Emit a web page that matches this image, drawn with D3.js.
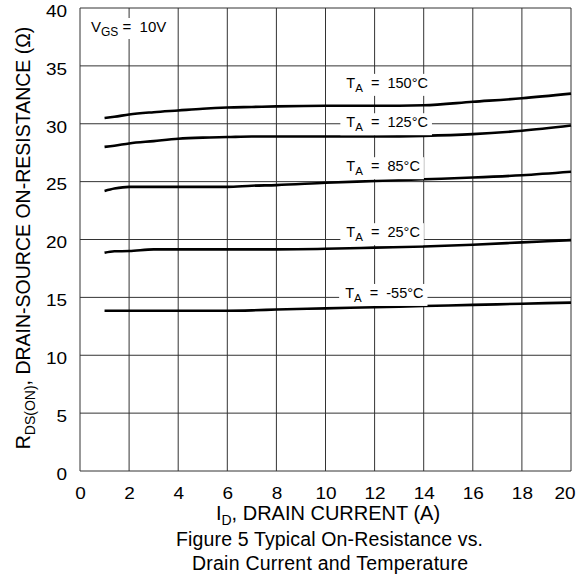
<!DOCTYPE html>
<html>
<head>
<meta charset="utf-8">
<script src="https://cdn.jsdelivr.net/npm/d3@7"></script>
<style>
  body { margin: 0; background: #fff; }
  text { font-family: "Liberation Sans", Arial, sans-serif; fill: #000; }
</style>
</head>
<body>
<div id="chart"></div>
<script>
var w = 576;
var h = 574;

// drain current (A) sample points
var current = [1, 1.4, 2, 3, 4, 5, 6, 7, 8, 10, 12, 14, 16, 18, 20];

// on-resistance (ohm), one array per temperature
var r150 = [30.5, 30.6, 30.8, 31.0, 31.15, 31.3, 31.4, 31.45, 31.5, 31.55, 31.55, 31.6, 31.9, 32.2, 32.6];
var r125 = [28.0, 28.1, 28.3, 28.5, 28.7, 28.8, 28.85, 28.9, 28.9, 28.9, 28.9, 28.95, 29.1, 29.4, 29.85];
var r85  = [24.2, 24.4, 24.55, 24.55, 24.55, 24.55, 24.55, 24.65, 24.7, 24.9, 25.05, 25.2, 25.35, 25.55, 25.85];
var r25  = [18.85, 18.98, 19.0, 19.15, 19.15, 19.15, 19.15, 19.15, 19.15, 19.2, 19.3, 19.4, 19.55, 19.75, 19.95];
var rm55 = [13.85, 13.85, 13.85, 13.85, 13.85, 13.85, 13.85, 13.88, 13.95, 14.05, 14.15, 14.25, 14.35, 14.45, 14.55];

var tempLabels = ["150°C", "125°C", "85°C", "25°C", "-55°C"];
var series = [r150, r125, r85, r25, rm55];
// where each T_A label sits, in data units (current, resistance)
var labelAt = [[10.85, 33.1], [10.85, 29.7], [10.85, 25.9], [10.85, 20.2], [10.8, 14.95]];

var xTicks = d3.range(0, 21, 2);
var yTicks = d3.range(0, 41, 5);

var svg = d3.select("#chart")
    .append("svg")
    .attr("width", w)
    .attr("height", h);

var x = d3.scaleLinear().domain([0, 20]).range([80, 571]);
var y = d3.scaleLinear().domain([0, 40]).range([471, 8]);

// grid
var grid = svg.append("g").attr("stroke", "#333").attr("stroke-width", 1);
grid.selectAll("line.v")
    .data(xTicks)
    .enter()
    .append("line")
    .attr("x1", function(d) { return x(d); })
    .attr("x2", function(d) { return x(d); })
    .attr("y1", y(0))
    .attr("y2", y(40));
grid.selectAll("line.h")
    .data(yTicks)
    .enter()
    .append("line")
    .attr("x1", x(0))
    .attr("x2", x(20))
    .attr("y1", function(d) { return y(d); })
    .attr("y2", function(d) { return y(d); });

// axes (labels only, grid draws the lines)
var xAxis = svg.append("g")
    .attr("transform", "translate(0," + y(0) + ")")
    .call(d3.axisBottom(x).tickValues(xTicks).tickSize(0).tickPadding(13));
var yAxis = svg.append("g")
    .attr("transform", "translate(" + x(0) + ",0)")
    .call(d3.axisLeft(y).tickValues(yTicks).tickSize(0).tickPadding(0));
svg.selectAll(".domain").remove();
svg.selectAll(".tick text")
    .attr("font-family", "Liberation Sans, Arial, sans-serif")
    .attr("font-size", 16.5)
    .attr("fill", "#000");
// the source glyphs are a bit wide, stretch them horizontally
yAxis.selectAll(".tick text")
    .attr("x", -13 / 1.15)
    .attr("dy", "0.5em")
    .attr("transform", "scale(1.15,1)");
xAxis.selectAll(".tick text")
    .attr("dy", "0.9em")
    .attr("transform", "scale(1.15,1)");
xAxis.selectAll(".tick text")
    .filter(function(d) { return d === 20; })
    .attr("text-anchor", "end")
    .attr("x", 4 / 1.15);

// curves
var line = d3.line()
    .x(function(d) { return x(d[0]); })
    .y(function(d) { return y(d[1]); })
    .curve(d3.curveMonotoneX);

svg.selectAll("path.curve")
    .data(series)
    .enter()
    .append("path")
    .attr("class", "curve")
    .attr("fill", "none")
    .attr("stroke", "#000")
    .attr("stroke-width", 2.6)
    .attr("d", function(s) {
        return line(s.map(function(v, i) { return [current[i], v]; }));
    });

// temperature labels with white boxes behind
tempLabels.forEach(function(t, i) {
    var g = svg.append("g");
    var lx = x(labelAt[i][0]);
    var ly = y(labelAt[i][1]);
    var txt = g.append("text")
        .attr("x", lx)
        .attr("y", ly)
        .attr("font-size", 14.5)
        .attr("xml:space", "preserve");
    txt.append("tspan").text("T");
    txt.append("tspan").attr("font-size", 11.5).attr("dy", 4).text("A");
    txt.append("tspan").attr("dy", -4).text("  =  " + t);
    var bb = txt.node().getBBox();
    g.insert("rect", "text")
        .attr("x", bb.x - 6)
        .attr("y", bb.y - 1)
        .attr("width", bb.width + 10)
        .attr("height", bb.height + 3)
        .attr("fill", "#fff");
});

// V_GS note
var vg = svg.append("g");
var vt = vg.append("text")
    .attr("x", 91)
    .attr("y", 32)
    .attr("font-size", 15)
    .attr("xml:space", "preserve");
vt.append("tspan").text("V");
vt.append("tspan").attr("font-size", 12).attr("dy", 4).text("GS");
vt.append("tspan").attr("dy", -4).text(" =  10V");
var vb = vt.node().getBBox();
vg.insert("rect", "text")
    .attr("x", vb.x - 2)
    .attr("y", vb.y)
    .attr("width", vb.width + 4)
    .attr("height", vb.height)
    .attr("fill", "#fff");

// x axis title
var xt = svg.append("text")
    .attr("x", 328)
    .attr("y", 520)
    .attr("text-anchor", "middle")
    .attr("font-size", 20);
xt.append("tspan").text("I");
xt.append("tspan").attr("font-size", 14).attr("dy", 5).text("D");
xt.append("tspan").attr("dy", -5).text(", DRAIN CURRENT (A)");

// y axis title
var yt = svg.append("text")
    .attr("transform", "translate(30,238) rotate(-90)")
    .attr("text-anchor", "middle")
    .attr("font-size", 19.5);
yt.append("tspan").text("R");
yt.append("tspan").attr("font-size", 14).attr("dy", 5).text("DS(ON)");
yt.append("tspan").attr("dy", -5).text(", DRAIN-SOURCE ON-RESISTANCE (Ω)");

// caption
svg.append("text")
    .attr("x", 329.5)
    .attr("y", 546)
    .attr("text-anchor", "middle")
    .attr("font-size", 19.5)
    .attr("textLength", 307)
    .attr("lengthAdjust", "spacing")
    .text("Figure 5 Typical On-Resistance vs.");
svg.append("text")
    .attr("x", 330)
    .attr("y", 569.5)
    .attr("text-anchor", "middle")
    .attr("font-size", 19.5)
    .attr("textLength", 276)
    .attr("lengthAdjust", "spacing")
    .text("Drain Current and Temperature");
</script>
</body>
</html>
